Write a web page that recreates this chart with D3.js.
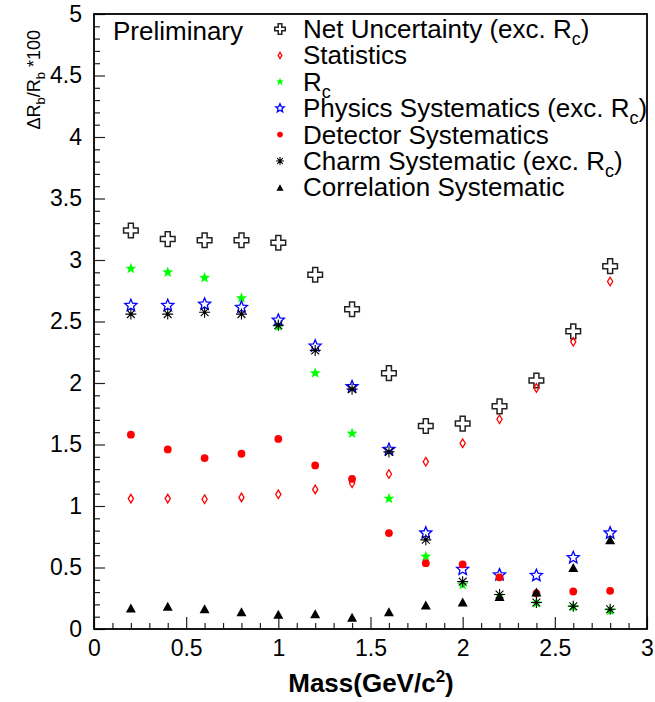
<!DOCTYPE html>
<html>
<head>
<meta charset="utf-8">
<script src="https://cdn.jsdelivr.net/npm/d3@7/dist/d3.min.js"></script>
<style>
  html, body { margin: 0; padding: 0; background: #fff; }
  svg text { font-family: "Liberation Sans", Arial, Helvetica, sans-serif; fill: #000; }
</style>
</head>
<body>
<svg id="chart" width="655" height="702"></svg>
<script>
// Mass bins (GeV/c^2)
const mass = [0.2, 0.4, 0.6, 0.8, 1.0, 1.2, 1.4, 1.6, 1.8, 2.0, 2.2, 2.4, 2.6, 2.8];

// Uncertainty components, ΔRb/Rb * 100
const netUncertainty = [3.24, 3.17, 3.16, 3.16, 3.14, 2.88, 2.60, 2.08, 1.65, 1.67, 1.81, 2.02, 2.42, 2.95];
const statistics     = [1.06, 1.06, 1.055, 1.07, 1.095, 1.135, 1.185, 1.26, 1.36, 1.51, 1.705, 1.96, 2.335, 2.825];
const rcUncertainty  = [2.93, 2.90, 2.855, 2.69, 2.46, 2.08, 1.59, 1.06, 0.59, 0.36, 0.27, 0.21, 0.18, 0.15];
const physicsSyst    = [2.63, 2.63, 2.64, 2.615, 2.51, 2.30, 1.97, 1.46, 0.78, 0.485, 0.44, 0.435, 0.58, 0.78];
const detectorSyst   = [1.58, 1.46, 1.39, 1.425, 1.545, 1.33, 1.22, 0.78, 0.535, 0.525, 0.42, 0.29, 0.305, 0.31];
const charmSyst      = [2.56, 2.56, 2.575, 2.56, 2.47, 2.265, 1.95, 1.44, 0.725, 0.385, 0.28, 0.215, 0.185, 0.16];
const correlationSyst= [0.17, 0.185, 0.165, 0.14, 0.12, 0.125, 0.095, 0.14, 0.195, 0.22, 0.265, 0.30, 0.50, 0.725];

// Axis ticks
const xMajorTicks = [0, 0.5, 1, 1.5, 2, 2.5, 3];
const yMajorTicks = [0, 0.5, 1, 1.5, 2, 2.5, 3, 3.5, 4, 4.5, 5];

const svg = d3.select("#chart");
const frame = { left: 94, right: 647, top: 14, bottom: 629 };

const x = d3.scaleLinear().domain([0, 3]).range([frame.left, frame.right]);
const y = d3.scaleLinear().domain([0, 5]).range([frame.bottom, frame.top]);

// ---- marker shapes (paths centred on 0,0) ----
function starPath(R, ratio) {
  const pts = [];
  for (let i = 0; i < 10; i++) {
    const r = i % 2 === 0 ? R : R * ratio;
    const a = -Math.PI / 2 + i * Math.PI / 5;
    pts.push([r * Math.cos(a), r * Math.sin(a)]);
  }
  return "M" + pts.map(p => p[0].toFixed(2) + "," + p[1].toFixed(2)).join("L") + "Z";
}
function crossPath(a, b) {
  return `M${-b},${-a}H${b}V${-b}H${a}V${b}H${b}V${a}H${-b}V${b}H${-a}V${-b}H${-b}Z`;
}
function diamondPath(w, h) {
  return `M0,${-h}L${w},0L0,${h}L${-w},0Z`;
}
function trianglePath(w, h) {
  return `M0,${-h / 2}L${w / 2},${h / 2}L${-w / 2},${h / 2}Z`;
}
function asteriskPath(r) {
  const d = r * Math.SQRT1_2;
  return `M${-r},0H${r}M0,${-r}V${r}M${-d},${-d}L${d},${d}M${-d},${d}L${d},${-d}`;
}

// Draw one marker group at (cx, cy) with a scale factor k
function drawMarker(g, kind, cx, cy, k) {
  const t = g.append("g").attr("transform", `translate(${cx},${cy}) scale(${k})`);
  switch (kind) {
    case "net":
      t.append("path").attr("d", crossPath(7.3, 2.5))
        .attr("fill", "none").attr("stroke", "#222").attr("stroke-width", 1.5 / k);
      break;
    case "stat":
      t.append("path").attr("d", diamondPath(2.6, 4.3))
        .attr("fill", "none").attr("stroke", "#ff0000").attr("stroke-width", 1.3 / k);
      break;
    case "rc":
      t.append("path").attr("d", starPath(5.8, 0.42)).attr("fill", "#00ff00");
      break;
    case "phys":
      t.append("path").attr("d", starPath(6.3, 0.45))
        .attr("fill", "none").attr("stroke", "#0000ff").attr("stroke-width", 1.3 / k);
      break;
    case "det":
      t.append("circle").attr("r", 3.9).attr("fill", "#ff0000");
      break;
    case "charm":
      t.append("path").attr("d", asteriskPath(5.5))
        .attr("fill", "none").attr("stroke", "#000").attr("stroke-width", 1.1 / k);
      t.append("circle").attr("r", 1.6).attr("fill", "#000");
      break;
    case "corr":
      t.append("path").attr("d", trianglePath(10, 9)).attr("fill", "#000");
      break;
  }
}

const series = [
  { kind: "net",   values: netUncertainty,  label: ["Net Uncertainty (exc. R", "c", ")"] },
  { kind: "stat",  values: statistics,      label: ["Statistics"] },
  { kind: "rc",    values: rcUncertainty,   label: ["R", "c", ""] },
  { kind: "phys",  values: physicsSyst,     label: ["Physics Systematics (exc. R", "c", ")"] },
  { kind: "det",   values: detectorSyst,    label: ["Detector Systematics"] },
  { kind: "charm", values: charmSyst,       label: ["Charm Systematic (exc. R", "c", ")"] },
  { kind: "corr",  values: correlationSyst, label: ["Correlation Systematic"] }
];

// ---- axes ----
const tickFont = "23px";
const yMinor = d3.range(0, 51).map(i => i / 10).filter(v => Math.abs(v * 2 - Math.round(v * 2)) > 1e-6);
const xMinor = d3.range(0, 31).map(i => i / 10).filter(v => Math.abs(v * 2 - Math.round(v * 2)) > 1e-6);

const yAxisG = svg.append("g").attr("transform", `translate(${frame.left},0)`);
yAxisG.append("g").call(d3.axisLeft(y).tickValues(yMinor).tickSize(-6).tickSizeOuter(0).tickFormat(""));
yAxisG.append("g").call(d3.axisLeft(y).tickValues(yMajorTicks).tickSize(-11).tickSizeOuter(0)
  .tickPadding(12).tickFormat(d => d3.format("")(d)));

const xAxisG = svg.append("g").attr("transform", `translate(0,${frame.bottom})`);
xAxisG.append("g").call(d3.axisBottom(x).tickValues(xMinor).tickSize(-6).tickSizeOuter(0).tickFormat(""));
xAxisG.append("g").call(d3.axisBottom(x).tickValues(xMajorTicks).tickSize(-12).tickSizeOuter(0)
  .tickPadding(11).tickFormat(d => d3.format("")(d)));

svg.selectAll(".tick line").attr("stroke", "#222").attr("stroke-width", 1.2);
svg.selectAll(".domain").attr("stroke", "none");
svg.selectAll(".tick text").style("font-size", tickFont).style("font-family", "'Liberation Sans', Arial, sans-serif").attr("fill", "#000");

// Frame box
svg.append("rect")
  .attr("x", frame.left).attr("y", frame.top)
  .attr("width", frame.right - frame.left).attr("height", frame.bottom - frame.top)
  .attr("fill", "none").attr("stroke", "#000").attr("stroke-width", 1.8);

// ---- data markers ----
const plotG = svg.append("g");
series.forEach(s => {
  const g = plotG.append("g").attr("class", "series-" + s.kind);
  s.values.forEach((v, i) => drawMarker(g, s.kind, x(mass[i]), y(v), 1));
});

// ---- legend ----
const legendG = svg.append("g");
const legendTop = 29, legendStep = 26.4;
series.forEach((s, i) => {
  const cy = legendTop + i * legendStep;
  drawMarker(legendG, s.kind, 280, cy, 0.72);
  const t = legendG.append("text").attr("x", 303).attr("y", cy + 9).style("font-size", "26px");
  t.append("tspan").text(s.label[0]);
  if (s.label.length > 1) {
    t.append("tspan").attr("dy", 7).style("font-size", "18px").text(s.label[1]);
    t.append("tspan").attr("dy", -7).text(s.label[2]);
  }
});

svg.append("text").attr("x", 113).attr("y", 40).style("font-size", "26px").text("Preliminary");

// ---- axis titles ----
const xt = svg.append("text").attr("x", 371).attr("y", 692)
  .attr("text-anchor", "middle").style("font-size", "26px").style("font-weight", "bold");
xt.append("tspan").text("Mass(GeV/c");
xt.append("tspan").attr("dy", -10).style("font-size", "17px").text("2");
xt.append("tspan").attr("dy", 10).text(")");

const yt = svg.append("text").attr("transform", "translate(40,30) rotate(-90)")
  .attr("text-anchor", "end").style("font-size", "18px");
yt.append("tspan").text("ΔR");
yt.append("tspan").attr("dy", 5).style("font-size", "13px").text("b");
yt.append("tspan").attr("dy", -5).text("/R");
yt.append("tspan").attr("dy", 5).style("font-size", "13px").text("b");
yt.append("tspan").attr("dy", -5).text(" *100");
</script>
</body>
</html>
